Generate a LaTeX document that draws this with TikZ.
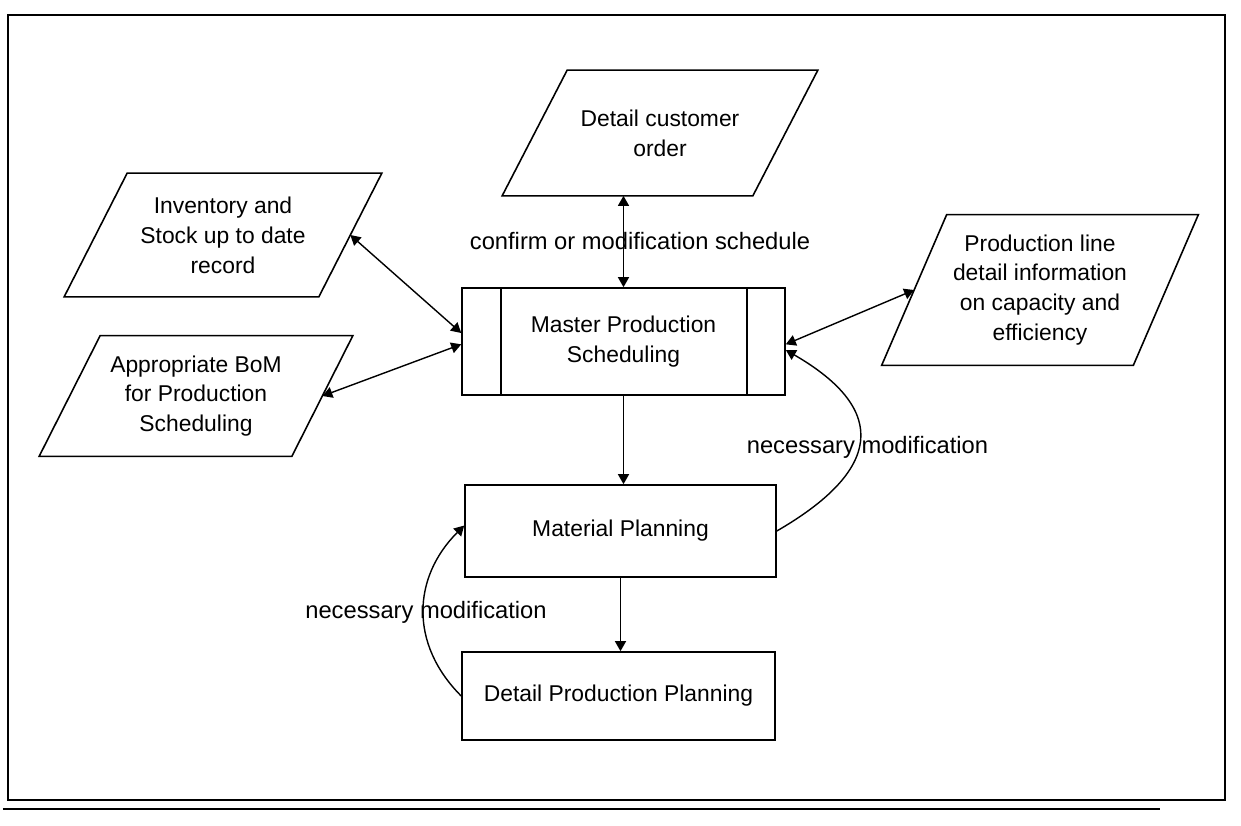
\documentclass[tikz,border=0pt]{standalone}
\usepackage{fontspec}
\setmainfont{Liberation Sans}
\usetikzlibrary{arrows.meta,calc}

% outline of a data box: #1 node name, #2 horizontal slant
\newcommand\slantbox[2]{%
  \draw[line width=0.9pt] ($(#1.north west)+(#2,0)$) -- (#1.north east)
    -- ($(#1.south east)-(#2,0)$) -- (#1.south west) -- cycle;}

\begin{document}
\begin{tikzpicture}[
  frame/.style={draw=black,line width=1.1pt},
  datain/.style={align=center,font=\fontsize{13}{17}\selectfont,inner sep=1pt},
  process/.style={draw=black,line width=0.9pt,align=center,font=\fontsize{13}{17}\selectfont,inner sep=2pt},
  link/.style={{Triangle[length=2mm,width=2.2mm]}-{Triangle[length=2mm,width=2.2mm]},line width=0.8pt},
  flow/.style={-{Triangle[length=2mm,width=2.2mm]},line width=0.8pt},
  note/.style={font=\fontsize{13.5}{17}\selectfont,inner sep=1pt}
]
\useasboundingbox (0,0) rectangle (24.82,-16.52);

% Outer frame with the doubled bottom edge.
\path[frame] (0.16,-0.3) rectangle (24.5,-16.0);
\draw[line width=0.9pt] (0.06,-16.18) -- (23.2,-16.18);

% Data inputs around the scheduling step.
\node[datain,minimum width=6.3cm,minimum height=2.5cm] (order) at (13.2,-2.66) {Detail customer\\order};
\slantbox{order}{1.3}
\node[datain,minimum width=6.34cm,minimum height=2.46cm] (stock) at (4.46,-4.7) {Inventory and\\Stock up to date\\record};
\slantbox{stock}{1.26}
\node[datain,minimum width=6.26cm,minimum height=2.4cm] (bom) at (3.92,-7.92) {Appropriate BoM\\for Production\\Scheduling};
\slantbox{bom}{1.22}
\node[datain,minimum width=6.32cm,minimum height=3cm] (capacity) at (20.8,-5.8) {Production line\\detail information\\on capacity and\\efficiency};
\slantbox{capacity}{1.3}

% Planning steps.
\node[process,minimum width=6.46cm,minimum height=2.14cm] (mps) at (12.47,-6.83) {Master Production\\Scheduling};
\draw[line width=0.9pt] ($(mps.north west)+(0.8,0)$) -- ($(mps.south west)+(0.8,0)$);
\draw[line width=0.9pt] ($(mps.north east)+(-0.78,0)$) -- ($(mps.south east)+(-0.78,0)$);
\node[process,minimum width=6.22cm,minimum height=1.84cm] (matplan) at (12.41,-10.62) {Material Planning};
\node[process,minimum width=6.26cm,minimum height=1.76cm] (detplan) at (12.37,-13.92) {Detail Production Planning};

% Exchanges with the inputs.
\draw[link] (mps.north |- order.south) -- (mps.north);
\draw[link] ($(stock.east)-(0.63,0)$) -- (mps.177);
\draw[link] ($(bom.east)-(0.61,0)$) -- (mps.181);
\draw[link] ($(capacity.west)+(0.65,0)$) -- (mps.-1);
\node[note] (confirm) at (12.8,-4.82) {confirm or modification schedule};

% Downward flow and feedback loops.
\draw[flow] (mps.south) -- (mps.south |- matplan.north);
\draw[flow] (matplan.south) -- (matplan.south |- detplan.north);
\draw[flow] (matplan.east) to[out=30,in=-30,looseness=1.7] (mps.-3);
\draw[flow] (detplan.west) to[out=135,in=-135,looseness=1.1] (matplan.178);
\node[note] (modup) at (17.35,-8.94) {necessary modification};
\node[note] (moddown) at (8.52,-12.24) {necessary modification};
\end{tikzpicture}
\end{document}
